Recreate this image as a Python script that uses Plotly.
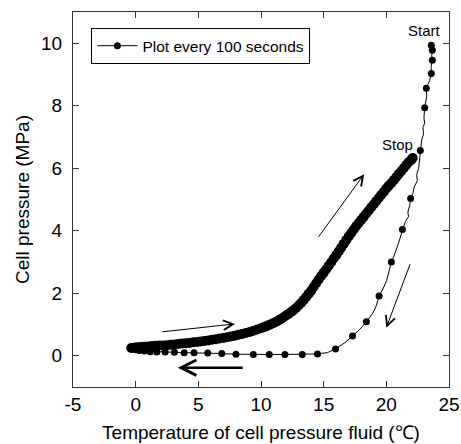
import plotly.graph_objects as go

# Cooling path: markers every 100 s (from Start down and left)
cool_x = [23.59, 23.67, 23.67, 23.59, 23.19, 23.06, 22.71, 21.94, 21.28, 20.40, 19.42, 18.41,
          17.30, 15.95, 14.51, 13.29, 11.91, 10.66, 9.39, 8.00, 6.87, 5.75, 4.66, 3.87, 3.09,
          2.35, 1.69, 1.16, 0.70, 0.30, 0.00, -0.30]
cool_y = [9.94, 9.78, 9.46, 9.03, 8.56, 7.94, 6.57, 5.03, 4.04, 3.00, 1.91, 1.09,
          0.63, 0.22, 0.06, 0.04, 0.04, 0.04, 0.04, 0.05, 0.07, 0.09, 0.10, 0.10, 0.11,
          0.12, 0.12, 0.13, 0.15, 0.17, 0.19, 0.23]

# Continuous (noisy) record of the cooling path, drawn as a line
cool_line_x = [23.59, 23.67, 23.62, 23.67, 23.58, 23.59, 23.45, 23.19, 23.22, 23.10, 23.06,
               23.00, 23.06, 22.92, 22.97, 22.82, 22.71, 22.62, 22.58, 22.42, 22.47, 22.22,
               22.12, 21.94, 21.86, 21.72, 21.77, 21.52, 21.28, 21.12, 20.97, 20.82, 20.62,
               20.40, 20.22, 20.02, 19.80, 19.42, 19.20, 18.90, 18.41, 17.90, 17.30, 16.70,
               15.95, 15.30, 14.51, 13.29, 11.91, 10.66, 9.39, 8.00, 6.87, 5.75, 4.66, 3.87,
               3.09, 2.35, 1.69, 1.16, 0.70, 0.30, 0.00, -0.30]
cool_line_y = [9.94, 9.78, 9.60, 9.46, 9.25, 9.03, 8.80, 8.56, 8.30, 8.10, 7.94,
               7.60, 7.45, 7.30, 7.10, 6.90, 6.57, 6.30, 6.00, 5.80, 5.60, 5.40,
               5.20, 5.03, 4.80, 4.60, 4.45, 4.30, 4.04, 3.80, 3.60, 3.40, 3.20,
               3.00, 2.70, 2.40, 2.20, 1.91, 1.60, 1.35, 1.09, 0.85, 0.63, 0.42,
               0.22, 0.10, 0.06, 0.04, 0.04, 0.04, 0.04, 0.05, 0.07, 0.09, 0.10, 0.10,
               0.11, 0.12, 0.12, 0.13, 0.15, 0.17, 0.19, 0.23]

# Heating path: markers every 100 s (dense band up to Stop)
heat_x = [-0.35, -0.1, 0.1, 0.4, 0.7, 1.0, 1.3, 1.6, 1.9, 2.2, 2.5, 2.8, 3.1, 3.4, 3.7, 4.0,
          4.3, 4.6, 4.9, 5.2, 5.5, 5.8, 6.1, 6.4, 6.7, 7.0, 7.3, 7.6, 7.9, 8.2, 8.5, 8.8,
          9.1, 9.4, 9.7, 10.0, 10.2, 10.4, 10.6, 10.8, 11.0, 11.2, 11.4, 11.6, 11.8, 12.0,
          12.2, 12.4, 12.6, 12.8, 13.0, 13.2, 13.4, 13.6, 13.8, 14.0, 14.2, 14.4, 14.6,
          14.8, 15.0, 15.2, 15.4, 15.6, 15.8, 16.0, 16.2, 16.4, 16.6, 16.8, 17.0, 17.2,
          17.4, 17.6, 17.8, 18.0, 18.2, 18.4, 18.6, 18.8, 19.0, 19.2, 19.4, 19.6, 19.8,
          20.0, 20.2, 20.4, 20.6, 20.8, 21.0, 21.2, 21.4, 21.6, 21.8, 22.0, 22.1]
heat_y = [0.25, 0.26, 0.27, 0.28, 0.29, 0.30, 0.31, 0.32, 0.33, 0.33, 0.34, 0.35, 0.36, 0.38,
          0.39, 0.40, 0.41, 0.43, 0.44, 0.46, 0.47, 0.49, 0.51, 0.53, 0.55, 0.57, 0.59, 0.62,
          0.64, 0.67, 0.70, 0.73, 0.76, 0.80, 0.84, 0.88, 0.91, 0.94, 0.98, 1.01, 1.05, 1.09,
          1.13, 1.18, 1.23, 1.29, 1.34, 1.40, 1.46, 1.53, 1.61, 1.69, 1.78, 1.88, 1.98, 2.08,
          2.20, 2.32, 2.44, 2.55, 2.66, 2.77, 2.88, 2.99, 3.11, 3.22, 3.34, 3.46, 3.58, 3.70,
          3.82, 3.93, 4.04, 4.15, 4.25, 4.35, 4.45, 4.55, 4.65, 4.75, 4.85, 4.95, 5.05, 5.15,
          5.25, 5.35, 5.44, 5.53, 5.62, 5.72, 5.82, 5.91, 6.01, 6.11, 6.20, 6.27, 6.33]

x_ticks = [-5, 0, 5, 10, 15, 20, 25]
x_tick_text = ["-5", "0", "5", "10", "15", "20", "25"]
y_ticks = [0, 2, 4, 6, 8, 10]
y_tick_text = ["0", "2", "4", "6", "8", "10"]

FONT = "Liberation Sans, Arial, sans-serif"
AX = "#333333"

fig = go.Figure()
fig.add_trace(go.Scatter(x=cool_line_x, y=cool_line_y, mode="lines",
                         line=dict(color="black", width=1), showlegend=False, hoverinfo="skip"))
fig.add_trace(go.Scatter(x=cool_x, y=cool_y, mode="markers",
                         marker=dict(color="black", size=7), showlegend=False))
fig.add_trace(go.Scatter(x=heat_x, y=heat_y, mode="lines+markers",
                         line=dict(color="black", width=1),
                         marker=dict(color="black", size=10), showlegend=False))
# legend entry for the series
fig.add_trace(go.Scatter(x=[None], y=[None], mode="lines+markers",
                         line=dict(color="black", width=1),
                         marker=dict(color="black", size=7),
                         name="Plot every 100 seconds"))

# thick leftward arrow shaft
fig.add_shape(type="line", x0=3.6, y0=-0.38, x1=8.54, y1=-0.38, xref="x", yref="y",
              line=dict(color="black", width=2.5))

arrows = [
    dict(x=18.23, y=5.81, ax=14.51, ay=3.76, size=1.9),
    dict(x=7.93, y=1.02, ax=2.01, ay=0.76, size=1.9),
    dict(x=20.0, y=0.90, ax=21.94, ay=2.98, size=1.9),
    dict(x=3.36, y=-0.38, ax=8.54, ay=-0.38, size=3.0),
]
for a in arrows:
    fig.add_annotation(x=a["x"], y=a["y"], ax=a["ax"], ay=a["ay"], xref="x", yref="y",
                       axref="x", ayref="y", text="", showarrow=True, arrowhead=5,
                       arrowsize=a["size"], arrowwidth=1, arrowcolor="black", standoff=0,
                       startstandoff=0)

fig.add_annotation(x=23.07, y=10.42, text="Start", showarrow=False, xref="x", yref="y",
                   font=dict(family=FONT, size=15, color="black"))
fig.add_annotation(x=20.86, y=6.75, text="Stop", showarrow=False, xref="x", yref="y",
                   font=dict(family=FONT, size=15, color="black"))

axis_common = dict(showline=True, linecolor=AX, linewidth=1.3, mirror="ticks",
                   ticks="inside", ticklen=6, tickwidth=1, tickcolor=AX,
                   showgrid=False, zeroline=False, automargin=False,
                   tickfont=dict(family=FONT, size=19, color="black"))

fig.update_xaxes(range=[-5, 25], tickvals=x_ticks, ticktext=x_tick_text,
                 title=dict(text="Temperature of cell pressure fluid (℃)",
                            font=dict(family=FONT, size=19, color="black"), standoff=11),
                 **axis_common)
fig.update_yaxes(range=[-1, 11], tickvals=y_ticks, ticktext=y_tick_text,
                 ticklabelstandoff=6,
                 title=dict(text="Cell pressure (MPa)",
                            font=dict(family=FONT, size=19, color="black"), standoff=6),
                 **axis_common)

fig.update_layout(
    width=461, height=444,
    margin=dict(l=73, r=12, t=12, b=57, autoexpand=False),
    paper_bgcolor="white", plot_bgcolor="white",
    font=dict(family=FONT, color="black"),
    showlegend=True,
    legend=dict(x=0.049, y=0.957, xanchor="left", yanchor="top",
                bordercolor="black", borderwidth=1, bgcolor="white",
                font=dict(family=FONT, size=15.5, color="black"),
                itemwidth=40, tracegroupgap=0),
)

fig.write_html("out.html", config={"displayModeBar": False},
               post_script="document.body.style.margin='0';document.body.style.overflow='hidden';")
